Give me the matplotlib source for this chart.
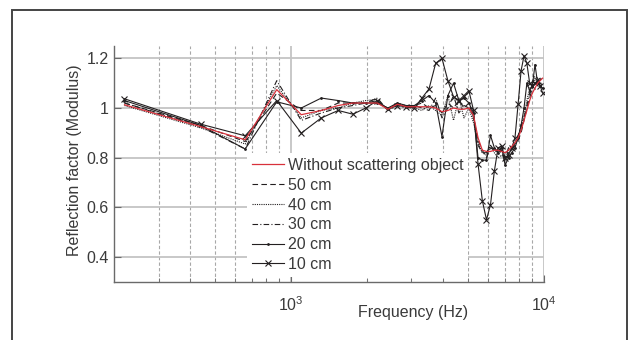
import numpy as np
import matplotlib.pyplot as plt
from matplotlib.patches import Rectangle
from matplotlib.ticker import FixedLocator, NullFormatter

plt.rcParams['font.family'] = ['Liberation Sans', 'DejaVu Sans']
plt.rcParams['mathtext.default'] = 'regular'

freq = [220, 440, 660, 880, 1100, 1320, 1540, 1760, 1980, 2200,
        2420, 2640, 2860, 3080, 3300, 3520, 3740, 3960, 4180, 4400,
        4620, 4840, 5060, 5280, 5500, 5720, 5940, 6160, 6380, 6600,
        6820, 7040, 7260, 7480, 7700, 7920, 8140, 8360, 8580, 8800,
        9020, 9240, 9460, 9680, 9900]

without = [1.013, 0.925, 0.872, 1.074, 0.973, 0.990, 1.010, 1.020, 1.020, 1.020,
           0.995, 1.015, 1.005, 1.005, 1.005, 1.005, 1.000, 0.985, 0.990, 1.000,
           0.995, 0.995, 1.000, 0.970, 0.880, 0.830, 0.825, 0.825, 0.830, 0.830,
           0.825, 0.820, 0.830, 0.845, 0.860, 0.880, 0.910, 0.950, 0.990, 1.030,
           1.060, 1.080, 1.100, 1.110, 1.120]
cm50 = [1.02, 0.93, 0.865, 1.06, 0.99, 0.99, 1.02, 1.02, 1.02, 1.03,
        0.995, 1.02, 1.0, 1.01, 1.02, 1.0, 1.01, 0.98, 1.02, 1.0,
        1.03, 1.0, 1.02, 0.96, 0.87, 0.83, 0.80, 0.84, 0.83, 0.83,
        0.82, 0.80, 0.84, 0.84, 0.86, 0.87, 0.90, 0.95, 1.00, 1.04,
        1.08, 1.10, 1.11, 1.12, 1.11]
cm40 = [1.01, 0.92, 0.855, 1.09, 0.96, 0.99, 1.0, 1.02, 1.03, 1.035,
        0.99, 1.02, 1.0, 1.0, 0.99, 1.01, 0.99, 0.97, 1.05, 0.95,
        1.04, 0.96, 1.0, 0.94, 0.86, 0.82, 0.81, 0.85, 0.82, 0.80,
        0.81, 0.79, 0.83, 0.83, 0.85, 0.88, 0.93, 0.97, 1.03, 1.08,
        1.09, 1.12, 1.10, 1.09, 1.10]
cm30 = [1.02, 0.925, 0.835, 1.11, 0.95, 0.98, 1.0, 1.01, 1.02, 1.04,
        0.99, 1.01, 1.0, 1.01, 1.0, 0.99, 1.04, 0.96, 1.0, 1.05,
        0.98, 1.01, 1.0, 0.97, 0.85, 0.82, 0.82, 0.85, 0.83, 0.82,
        0.83, 0.78, 0.82, 0.83, 0.86, 0.89, 0.92, 0.96, 1.01, 1.06,
        1.10, 1.13, 1.12, 1.10, 1.10]
cm20 = [1.03, 0.93, 0.835, 1.025, 1.0, 1.04, 1.03, 1.02, 1.02, 1.02,
        1.0, 1.02, 1.01, 1.01, 1.03, 1.05, 1.02, 0.885, 1.05, 1.10,
        1.03, 1.04, 1.02, 0.98, 0.80, 0.79, 0.79, 0.89, 0.84, 0.82,
        0.84, 0.77, 0.80, 0.82, 0.84, 0.88, 0.93, 1.0, 1.10, 1.07,
        1.09, 1.175, 1.10, 1.09, 1.08]
cm10 = [1.037, 0.935, 0.888, 1.03, 0.899, 0.96, 0.99, 0.975, 1.0, 1.03,
        0.995, 1.01, 1.005, 1.0, 1.04, 1.077, 1.18, 1.2, 1.11, 1.045,
        1.03, 1.05, 1.07, 0.99, 0.775, 0.627, 0.55, 0.61, 0.745, 0.84,
        0.845, 0.80, 0.81, 0.84, 0.88, 1.015, 1.15, 1.21, 1.18, 1.10,
        1.09, 1.10, 1.11, 1.09, 1.06]

labels = ['Without scattering object', '50 cm', '40 cm', '30 cm', '20 cm', '10 cm']
yticks = [0.4, 0.6, 0.8, 1.0, 1.2]
ytick_labels = ['0.4', '0.6', '0.8', '1', '1.2']

txt = '#3a3a3a'
blk = '#231f20'

fig = plt.figure(figsize=(6.3, 3.4), dpi=100)
ax = fig.add_axes([0.181, 0.171, 0.682, 0.694])

ax.plot(freq, without, color='#d8313b', lw=0.9, label=labels[0], zorder=5)
ax.plot(freq, cm50, color=blk, lw=0.8, ls=(0, (5, 3)), label=labels[1])
ax.plot(freq, cm40, color=blk, lw=0.8, ls=(0, (1, 1)), label=labels[2])
ax.plot(freq, cm30, color=blk, lw=0.8, ls=(0, (5, 2, 1, 2)), label=labels[3])
ax.plot(freq, cm20, color=blk, lw=0.8, marker='.', ms=2, label=labels[4])
ax.plot(freq, cm10, color=blk, lw=0.8, marker='x', ms=5, mew=0.8, label=labels[5])

ax.set_xscale('log')
ax.set_xlim(200, 10000)
ax.set_ylim(0.3, 1.25)
ax.set_yticks(yticks)
ax.set_yticklabels(ytick_labels)
ax.xaxis.set_minor_locator(FixedLocator([300, 400, 500, 600, 700, 800, 900,
                                         2000, 3000, 4000, 5000, 6000, 7000, 8000, 9000]))
ax.xaxis.set_minor_formatter(NullFormatter())

ax.grid(True, which='major', color='#c4c4c4', lw=1.3, ls='-')
ax.grid(True, which='minor', axis='x', color='#a8a8a8', lw=0.8, ls=(0, (3, 2)))
ax.set_axisbelow(True)

for s in ['top', 'right']:
    ax.spines[s].set_visible(False)
for s in ['left', 'bottom']:
    ax.spines[s].set_color('#6a6a6a')
    ax.spines[s].set_linewidth(1.0)

ax.tick_params(which='major', direction='in', length=5, color='#6a6a6a',
               labelsize=11.5, labelcolor=txt)
ax.tick_params(which='minor', direction='in', length=3, color='#6a6a6a')
ax.tick_params(axis='x', which='major', pad=10)
ax.tick_params(axis='y', which='major', pad=4)

ax.set_xlabel('Frequency (Hz)', fontsize=11.5, color=txt)
ax.xaxis.set_label_coords(0.695, -0.10)
ax.set_ylabel('Reflection factor (Modulus)', fontsize=11.5, color=txt)
ax.yaxis.set_label_coords(-0.074, 0.517)

leg = ax.legend(loc='upper left', bbox_to_anchor=(0.31, 0.545), fontsize=11.5,
                frameon=True, fancybox=False, handlelength=2.0, handletextpad=0.25,
                labelspacing=0.3, borderpad=0.3, numpoints=1, borderaxespad=0)
leg.get_frame().set_facecolor('white')
leg.get_frame().set_edgecolor('none')
leg.get_frame().set_alpha(1)
for t in leg.get_texts():
    t.set_color(txt)

fig.patches.append(Rectangle((12 / 630, -0.2), 615 / 630, 1.2 - 10 / 340,
                             transform=fig.transFigure, fill=False,
                             edgecolor='#444444', lw=1.4, clip_on=False))

fig.savefig('out.png', dpi=100)
